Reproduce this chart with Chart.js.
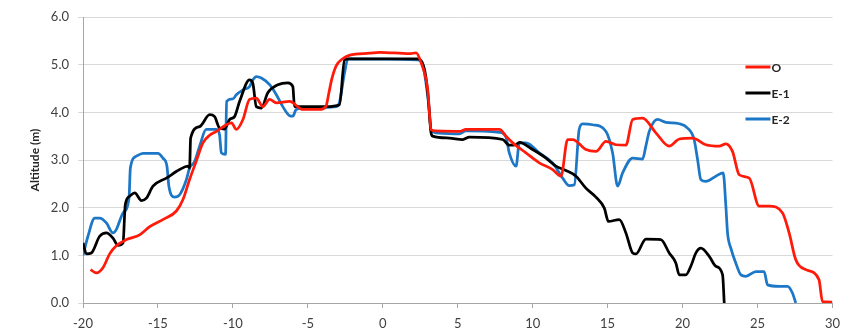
<!DOCTYPE html>
<html>
<head>
<meta charset="utf-8">
<script src="https://cdn.jsdelivr.net/npm/chart.js@4/dist/chart.umd.min.js"></script>
<style>
  html, body { margin: 0; padding: 0; background: #ffffff; }
  #wrap { width: 848px; height: 331px; }
</style>
</head>
<body>
<div id="wrap"><canvas id="chart" width="848" height="331"></canvas></div>
<script>
// Profile distances (m) and altitudes (m) for each survey line
const oX = [-19.5, -19.1, -18.67, -18.22, -17.78, -17.1, -16.22, -15.55, -14.67, -13.77, -13.33, -12.89, -12.44, -12.0, -11.55, -11.1, -10.44, -10.1, -9.77, -9.33, -8.89, -8.44, -8.0, -7.55, -7.1, -6.22, -5.33, -4.22, -3.8, -3.6, -3.4, -3.1, -2.7, -2.2, -0.89, -0.22, 1.78, 2.22, 2.55, 3.0, 3.22, 3.5, 5.1, 5.55, 7.78, 8.22, 8.67, 9.55, 10.44, 11.33, 11.89, 12.33, 12.67, 13.55, 14.22, 14.89, 15.55, 16.22, 16.67, 17.33, 18.22, 19.11, 19.78, 20.67, 21.55, 22.44, 22.89, 23.33, 23.78, 24.45, 25.11, 25.78, 26.67, 27.11, 27.55, 28.22, 29.1, 29.33, 30.0];
const oY = [0.7, 0.63, 0.74, 1.03, 1.2, 1.33, 1.43, 1.6, 1.75, 1.93, 2.17, 2.59, 2.98, 3.36, 3.52, 3.6, 3.74, 3.78, 3.64, 3.85, 4.27, 4.3, 4.12, 4.27, 4.2, 4.23, 4.06, 4.06, 4.12, 4.4, 4.7, 4.98, 5.12, 5.2, 5.24, 5.26, 5.23, 5.25, 5.05, 4.47, 3.64, 3.61, 3.6, 3.64, 3.64, 3.5, 3.36, 3.15, 2.94, 2.8, 2.66, 3.43, 3.43, 3.22, 3.18, 3.39, 3.32, 3.31, 3.85, 3.88, 3.57, 3.29, 3.44, 3.46, 3.32, 3.29, 3.34, 3.18, 2.69, 2.62, 2.03, 2.03, 1.89, 1.47, 0.91, 0.7, 0.49, 0.03, 0.02];

const e1X = [-20, -19.77, -19.44, -18.89, -18.44, -18.0, -17.67, -17.33, -17.18, -16.89, -16.55, -16.1, -15.77, -15.33, -14.44, -13.55, -13.0, -12.89, -12.82, -12.22, -11.55, -11.22, -10.89, -10.55, -10.22, -9.89, -9.55, -8.89, -8.67, -8.44, -8.1, -7.67, -7.0, -6.33, -6.0, -5.89, -3.78, -2.89, -2.55, -2.22, 2.33, 2.78, 3.0, 3.22, 3.33, 4.44, 5.33, 5.78, 8.0, 8.44, 8.89, 9.11, 10.0, 10.89, 11.55, 12.22, 12.89, 13.55, 14.22, 14.78, 15.05, 15.78, 16.22, 16.67, 16.89, 17.55, 18.55, 19.11, 19.55, 19.78, 20.22, 20.55, 20.89, 21.22, 21.78, 22.22, 22.67, 22.78];
const e1Y = [1.26, 1.03, 1.05, 1.4, 1.47, 1.36, 1.21, 1.26, 2.06, 2.24, 2.31, 2.15, 2.2, 2.45, 2.62, 2.8, 2.87, 2.83, 3.46, 3.7, 3.95, 3.91, 3.67, 3.65, 3.85, 3.91, 4.23, 4.68, 4.61, 4.12, 4.09, 4.41, 4.58, 4.62, 4.54, 4.12, 4.12, 4.16, 5.1, 5.12, 5.12, 4.9, 4.41, 3.57, 3.5, 3.46, 3.43, 3.48, 3.43, 3.31, 3.32, 3.37, 3.22, 3.04, 2.87, 2.78, 2.66, 2.41, 2.22, 1.99, 1.71, 1.75, 1.47, 1.05, 1.03, 1.34, 1.33, 1.05, 0.84, 0.59, 0.59, 0.77, 1.05, 1.15, 0.98, 0.77, 0.59, 0.0];

const e2X = [-20, -19.67, -19.22, -18.89, -18.44, -18.0, -17.78, -17.33, -16.93, -16.84, -16.44, -16.0, -15.0, -14.67, -14.4, -14.27, -13.89, -13.55, -13.1, -12.89, -12.55, -12.22, -11.78, -11.1, -10.89, -10.77, -10.49, -10.42, -10.0, -9.77, -9.33, -8.89, -8.67, -8.44, -8.1, -7.55, -7.1, -6.67, -6.22, -6.0, -5.78, -5.33, -3.11, -2.9, -2.55, -2.33, 2.33, 2.67, 2.89, 3.1, 3.22, 3.55, 5.1, 5.55, 7.78, 8.22, 8.44, 8.89, 9.11, 9.55, 10.44, 11.33, 12.0, 12.44, 12.78, 13.1, 13.33, 14.0, 14.89, 15.33, 15.67, 16.0, 16.67, 17.33, 17.55, 17.78, 18.33, 18.89, 19.78, 20.33, 20.77, 21.0, 21.22, 21.55, 22.22, 22.71, 22.89, 23.0, 23.22, 23.55, 23.89, 24.22, 24.89, 25.44, 25.67, 26.44, 27.0, 27.33, 27.55];
const e2Y = [1.0, 1.4, 1.78, 1.78, 1.68, 1.47, 1.54, 1.89, 2.2, 2.83, 3.08, 3.14, 3.14, 3.04, 2.87, 2.45, 2.22, 2.27, 2.59, 2.83, 2.97, 3.29, 3.64, 3.64, 3.53, 3.15, 3.12, 4.23, 4.28, 4.37, 4.47, 4.54, 4.68, 4.75, 4.72, 4.58, 4.37, 4.12, 3.93, 3.92, 4.06, 4.09, 4.12, 4.2, 4.83, 5.12, 5.1, 5.0, 4.6, 4.06, 3.62, 3.57, 3.55, 3.61, 3.58, 3.48, 3.15, 2.87, 3.36, 3.36, 3.15, 2.94, 2.62, 2.46, 2.48, 3.64, 3.76, 3.74, 3.6, 3.15, 2.45, 2.73, 3.04, 3.02, 3.29, 3.6, 3.85, 3.79, 3.76, 3.67, 3.43, 3.01, 2.59, 2.55, 2.66, 2.73, 2.03, 1.47, 1.15, 0.84, 0.59, 0.56, 0.66, 0.66, 0.38, 0.35, 0.35, 0.21, 0.0];

const seriesNames = ['O', 'E-1', 'E-2'];
const seriesColors = ['#ff1a0a', '#000000', '#1d77c7'];
const yTitle = 'Altitude (m)';

const FONT = "'Lato', 'Liberation Sans', sans-serif";

function toPoints(xs, ys) {
  return xs.map((x, i) => ({ x: x, y: ys[i] }));
}

// Legend drawn inside the plot area, on the right
const insideLegend = {
  id: 'insideLegend',
  afterDatasetsDraw(chart) {
    const { ctx, chartArea } = chart;
    const x0 = chartArea.right - 87;
    const y0 = chartArea.top + 50;
    ctx.save();
    ctx.font = "bold 12px " + FONT;
    ctx.textBaseline = 'middle';
    ctx.textAlign = 'left';
    chart.data.datasets.forEach((ds, i) => {
      const y = y0 + i * 26;
      ctx.strokeStyle = ds.borderColor;
      ctx.lineWidth = 3;
      ctx.beginPath();
      ctx.moveTo(x0, y);
      ctx.lineTo(x0 + 25, y);
      ctx.stroke();
      ctx.fillStyle = '#262626';
      ctx.fillText(ds.label, x0 + 26, y + 1);
    });
    ctx.restore();
  }
};

const datasets = [
  toPoints(oX, oY),
  toPoints(e1X, e1Y),
  toPoints(e2X, e2Y)
].map((pts, i) => ({
  label: seriesNames[i],
  data: pts,
  borderColor: seriesColors[i],
  backgroundColor: seriesColors[i],
  borderWidth: 2.75,
  pointRadius: 0,
  cubicInterpolationMode: 'monotone',
  fill: false
}));

new Chart(document.getElementById('chart'), {
  type: 'line',
  data: { datasets: datasets },
  options: {
    responsive: false,
    animation: false,
    devicePixelRatio: 1,
    layout: { padding: { top: 17, right: 15, left: 0, bottom: 0 } },
    plugins: {
      legend: { display: false },
      tooltip: { enabled: false }
    },
    scales: {
      x: {
        type: 'linear',
        min: -20,
        max: 30,
        ticks: {
          stepSize: 5,
          color: '#404040',
          font: { family: FONT, size: 13 },
          padding: 8,
          maxRotation: 0
        },
        grid: {
          drawOnChartArea: false,
          drawTicks: true,
          tickLength: 5,
          color: '#a6a6a6'
        },
        border: { display: true, color: '#a6a6a6', width: 1 },
        afterFit(scale) { scale.height = 28; }
      },
      y: {
        type: 'linear',
        min: 0,
        max: 6,
        ticks: {
          stepSize: 1,
          color: '#404040',
          font: { family: FONT, size: 13 },
          padding: 9,
          callback: (v) => Number(v).toFixed(1)
        },
        grid: {
          color: '#d9d9d9',
          drawTicks: true,
          tickLength: 5
        },
        border: { display: true, color: '#a6a6a6', width: 1 },
        title: {
          display: true,
          text: yTitle,
          color: '#262626',
          font: { family: FONT, size: 12, weight: 'bold' },
          padding: { top: 28, bottom: 0 }
        },
        afterFit(scale) { scale.width = 83; }
      }
    }
  },
  plugins: [insideLegend]
});
</script>
</body>
</html>
